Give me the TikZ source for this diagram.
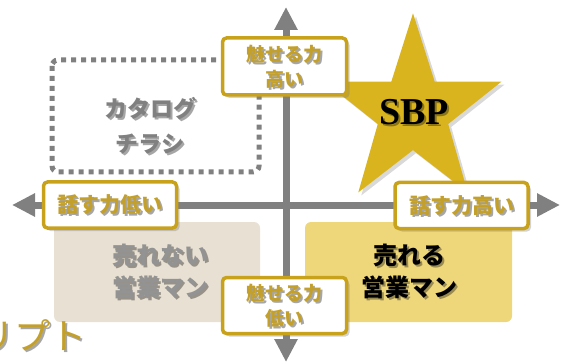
\documentclass[tikz,border=0pt]{standalone}
\usepackage{fontspec}
\setmainfont{Liberation Serif}
\newfontfamily\jp{Noto Sans CJK JP}
\usetikzlibrary{shadows,arrows.meta}
\definecolor{axisgray}{HTML}{808080}
\definecolor{goldline}{HTML}{C9A21C}
\definecolor{goldtext}{HTML}{C3A02B}
\definecolor{stargold}{HTML}{D9B41F}
\definecolor{beige}{HTML}{E8E0D2}
\definecolor{softyellow}{HTML}{EED67A}
\tikzset{
  axisline/.style={draw=axisgray, line width=7pt, -{Triangle[length=23pt,width=22pt]}},
  labelbox/.style={draw=goldline, line width=3.5pt, fill=white, rounded corners=4pt,
     inner sep=0pt, drop shadow={shadow xshift=3pt, shadow yshift=-3pt, opacity=.35}},
  labeltext/.style={font=\jp\bfseries\fontsize{19}{25}\selectfont, text=goldtext, align=center, inner sep=0pt},
  bigtext/.style={font=\jp\bfseries\fontsize{24}{32}\selectfont, align=center, inner sep=0pt},
  quad/.style={rounded corners=6pt, draw=none},
  shadowcopy/.style={text=black, text opacity=.35},
}
\newcommand\shtxt[4]{%
  \node[#3, shadowcopy] (#1s) at ([shift={(2,2)}]#2) {#4};
  \node[#3] (#1) at (#2) {#4};}
\begin{document}
\begin{tikzpicture}[x=1pt,y=-1pt]
\useasboundingbox (0,0) rectangle (561,363);
% quadrant boxes
\draw[axisgray, line width=5pt, dash pattern=on 5pt off 5pt, rounded corners=6pt] (52,60) rectangle (259,172);
\fill[beige, quad] (54,222) rectangle (260,322);
\fill[softyellow, quad] (305,222) rectangle (512,322);
% texts in quadrants
\shtxt{cat}{150,126}{bigtext, text=axisgray, font=\jp\bfseries\fontsize{23}{35}\selectfont}{カタログ\\チラシ}
\shtxt{nosell}{160,271}{bigtext, text=axisgray!85}{売れない\\営業マン}
\shtxt{sell}{409,271}{bigtext, text=black}{売れる\\営業マン}
% bottom-left partial text
\shtxt{scr}{-22,335}{anchor=west, inner sep=0pt, font=\jp\fontsize{36}{36}\selectfont, text=goldtext}{リプト}
% axes
\coordinate (hl) at (12,205);
\coordinate (hr) at (560,205);
\coordinate (vt) at (286,7);
\coordinate (vb) at (286,362);
\coordinate (hc) at (286,205);
\draw[axisline] (hc) -- (hl);
\draw[axisline] (hc) -- (hr);
\draw[axisline] (hc) -- (vt);
\draw[axisline] (hc) -- (vb);
% star
\fill[stargold, drop shadow={shadow xshift=3pt, shadow yshift=-3pt, opacity=.3}]
  (413,13.3) -- (434.7,81.7) -- (501.4,81.7) -- (448.2,124) -- (467.7,192.4)
  -- (413,150.1) -- (358.3,192.4) -- (377.8,124) -- (324.6,81.7) -- (391.3,81.7) -- cycle;
\shtxt{sbp}{414,112}{inner sep=0pt, font=\bfseries\fontsize{38}{38}\selectfont, text=black}{SBP}
% label boxes
\node[labelbox, minimum width=124pt, minimum height=57pt] (top) at (284.5,66.5) {};
\shtxt{topt}{top}{labeltext}{魅せる力\\高い}
\node[labelbox, minimum width=124pt, minimum height=56pt] (bot) at (284.5,305.5) {};
\shtxt{bott}{bot}{labeltext}{魅せる力\\低い}
\node[labelbox, minimum width=133pt, minimum height=46pt] (lft) at (110,205) {};
\shtxt{lftt}{lft}{labeltext, font=\jp\bfseries\fontsize{21}{25}\selectfont}{話す力低い}
\node[labelbox, minimum width=133pt, minimum height=46pt] (rgt) at (461.5,205.5) {};
\shtxt{rgtt}{rgt}{labeltext, font=\jp\bfseries\fontsize{21}{25}\selectfont}{話す力高い}
\end{tikzpicture}
\end{document}
